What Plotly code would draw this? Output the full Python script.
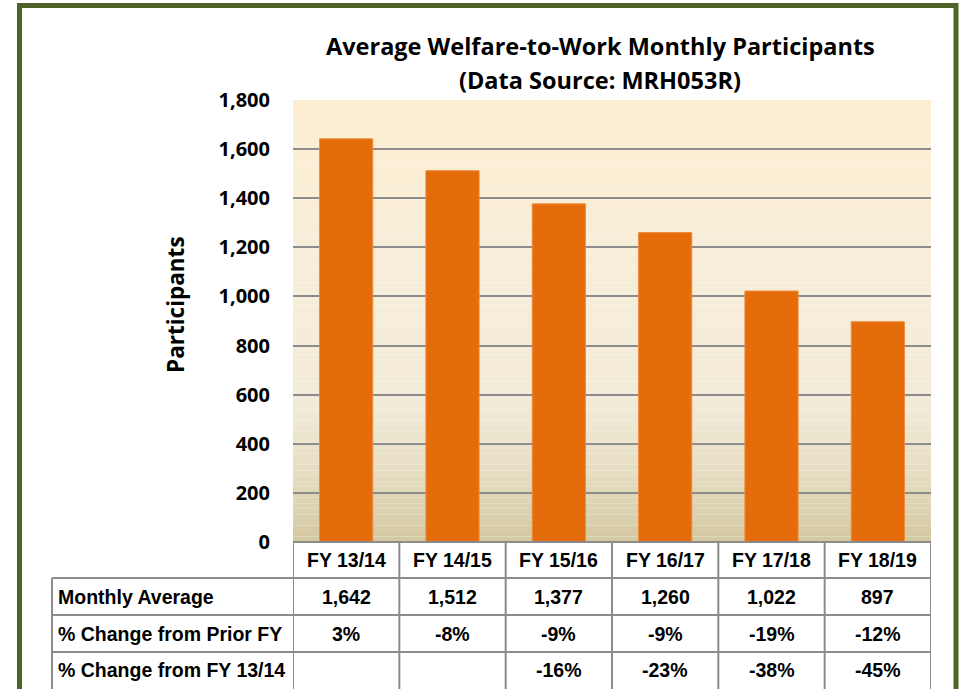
import plotly.graph_objects as go

categories = ["FY 13/14", "FY 14/15", "FY 15/16", "FY 16/17", "FY 17/18", "FY 18/19"]
monthly_avg = [1642, 1512, 1377, 1260, 1022, 897]
pct_prior = ["3%", "-8%", "-9%", "-9%", "-19%", "-12%"]
pct_base = ["", "", "-16%", "-23%", "-38%", "-45%"]
row_labels = ["Monthly Average", "% Change from Prior FY", "% Change from FY 13/14"]
y_ticks = [0, 200, 400, 600, 800, 1000, 1200, 1400, 1600, 1800]

W, H = 961, 689
L, R, T, B = 293, 931, 100, 542


def px(x):
    return (x - L) / (R - L)


def py(y):
    return (B - y) / (B - T)


fig = go.Figure()
fig.add_trace(go.Bar(
    x=categories, y=monthly_avg,
    marker=dict(color="#E46C0A", line=dict(color="#F08A3A", width=1)),
    hoverinfo="x+y",
))

shapes = []
# gradient background of plot area
stops = [(0.0, (253, 238, 210)), (0.45, (246, 237, 218)), (0.7, (241, 234, 215)),
         (0.85, (229, 220, 192)), (1.0, (212, 200, 161))]


def col_at(t):
    for (a, ca), (b, cb) in zip(stops[:-1], stops[1:]):
        if a <= t <= b:
            f = (t - a) / (b - a) if b > a else 0
            return tuple(round(ca[i] + (cb[i] - ca[i]) * f) for i in range(3))
    return stops[-1][1]


N = 80
for i in range(N):
    t = (i + 0.5) / N
    c = col_at(t)
    shapes.append(dict(type="rect", xref="paper", yref="paper", layer="below",
                       x0=0, x1=1, y0=1 - i / N, y1=1 - (i + 1) / N,
                       fillcolor="rgb(%d,%d,%d)" % c, line=dict(width=0)))

# table
grey = "#8C8C8C"
row_tops = [542, 578, 615, 652, 689]
lw = 2
shapes.append(dict(type="line", xref="paper", yref="paper", x0=px(L), x1=px(R),
                   y0=py(542), y1=py(542), line=dict(color=grey, width=lw)))
for yy in row_tops[1:4]:
    shapes.append(dict(type="line", xref="paper", yref="paper", x0=px(52), x1=px(R),
                       y0=py(yy), y1=py(yy), line=dict(color=grey, width=lw)))
shapes.append(dict(type="line", xref="paper", yref="paper", x0=px(52), x1=px(52),
                   y0=py(578), y1=py(689), line=dict(color=grey, width=lw)))
for i in range(len(categories) + 1):
    shapes.append(dict(type="line", xref="x", yref="paper", x0=i - 0.5, x1=i - 0.5,
                       y0=py(542), y1=py(689), line=dict(color=grey, width=lw)))

# green frame
shapes.append(dict(type="rect", xref="paper", yref="paper",
                   x0=px(19.5), x1=px(956), y0=py(5.5), y1=py(692),
                   line=dict(color="#4F6228", width=5), fillcolor="rgba(0,0,0,0)"))

annotations = []
tfont = dict(family="Liberation Sans, Arial, sans-serif", size=19.5, color="#000000")
for i, c in enumerate(categories):
    annotations.append(dict(x=c, xref="x", y=py(560), yref="paper", text="<b>%s</b>" % c,
                            showarrow=False, font=tfont, xanchor="center", yanchor="middle"))
    annotations.append(dict(x=c, xref="x", y=py(597), yref="paper", text="<b>{:,}</b>".format(monthly_avg[i]),
                            showarrow=False, font=tfont, xanchor="center", yanchor="middle"))
    annotations.append(dict(x=c, xref="x", y=py(634), yref="paper", text="<b>%s</b>" % pct_prior[i],
                            showarrow=False, font=tfont, xanchor="center", yanchor="middle"))
    if pct_base[i]:
        annotations.append(dict(x=c, xref="x", y=py(670), yref="paper", text="<b>%s</b>" % pct_base[i],
                                showarrow=False, font=tfont, xanchor="center", yanchor="middle"))
for lab, yy in zip(row_labels, [597, 634, 670]):
    annotations.append(dict(x=px(56), xref="paper", y=py(yy), yref="paper", text="<b>%s</b>" % lab,
                            showarrow=False, font=tfont, xanchor="left", yanchor="middle"))

cfont = dict(family="Open Sans, sans-serif", size=23.5, color="#000000")
annotations.append(dict(x=px(600), xref="paper", y=py(46), yref="paper",
                        text="<b>Average Welfare-to-Work Monthly Participants</b>",
                        showarrow=False, font=cfont, xanchor="center", yanchor="middle"))
annotations.append(dict(x=px(600), xref="paper", y=py(80), yref="paper",
                        text="<b>(Data Source: MRH053R)</b>",
                        showarrow=False, font=cfont, xanchor="center", yanchor="middle"))
annotations.append(dict(x=px(175), xref="paper", y=py(305), yref="paper",
                        text="<b>Participants</b>", textangle=-90,
                        showarrow=False, font=dict(family="Open Sans, sans-serif", size=22.5, color="#000000"),
                        xanchor="center", yanchor="middle"))

fig.update_layout(
    width=W, height=H,
    margin=dict(l=L, r=W - R, t=T, b=H - B, pad=0),
    paper_bgcolor="#FFFFFF", plot_bgcolor="rgba(0,0,0,0)",
    bargap=0.5, showlegend=False,
    shapes=shapes, annotations=annotations,
    xaxis=dict(showticklabels=False, showgrid=False, zeroline=False, showline=False,
               range=[-0.5, 5.5], fixedrange=True),
    yaxis=dict(range=[0, 1800], tickvals=y_ticks,
               ticktext=["<b>{:,}</b>".format(v) for v in y_ticks],
               showgrid=True, gridcolor=grey, gridwidth=2, zeroline=False,
               showline=False, ticks="", ticklabelstandoff=22,
               tickfont=dict(family="Open Sans, sans-serif", size=20, color="#000000")),
)

fig.write_html("out.html", config={"displayModeBar": False},
               post_script="document.body.style.margin='0';document.body.style.overflow='hidden';")
